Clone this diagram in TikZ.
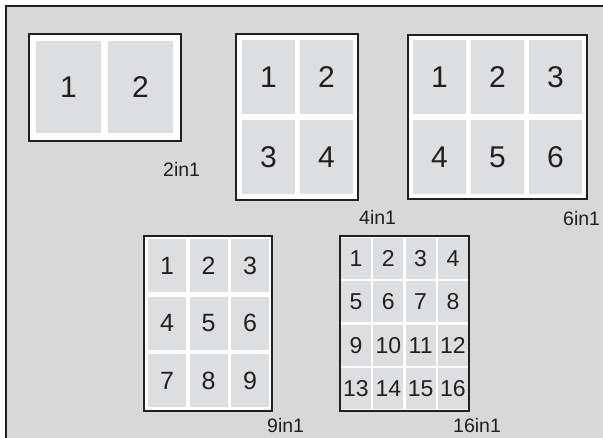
\documentclass[tikz,border=0pt]{standalone}
\usepackage{fontspec}
\setmainfont{Liberation Sans}
\usepackage{xcolor}
\usetikzlibrary{positioning}
\definecolor{panelgray}{HTML}{D8D8D8}
\definecolor{cellgray}{HTML}{DDDEE0}
\definecolor{inkblack}{HTML}{231F20}

\begin{document}
\begin{tikzpicture}[
    x=1pt, y=-1pt,
    sheet/.style={draw=inkblack, line width=1.6pt, fill=white, inner sep=0pt},
    cell/.style={fill=cellgray, inner sep=0pt, text=inkblack},
    bigcell/.style={cell, minimum width=53pt, minimum height=74pt, font=\fontsize{30}{31}\selectfont},
    tag/.style={inner sep=0pt, anchor=west, text=inkblack, font=\fontsize{19.5}{20}\selectfont}
]
\useasboundingbox (0,0) rectangle (603,438);
\fill[panelgray] (6,6) rectangle (603,438);
\draw[inkblack, line width=1.6pt] (6,438) -- (6,6) -- (603,6);

% 2 pages per sheet
\node[sheet, minimum width=152pt, minimum height=107pt] (s2) at (105,87.5) {};
\foreach \c in {0,1} {
  \pgfmathtruncatemacro\n{\c+1}
  \node[cell, minimum width=65pt, minimum height=92pt, font=\fontsize{30}{31}\selectfont] (c2-\n) at (68.5+72*\c, 87) {\n};
}
\node[tag] (l2) at (163,169.5) {2in1};

% 4 pages per sheet
\node[sheet, minimum width=122pt, minimum height=166pt] (s4) at (297,117) {};
\foreach \r in {0,1}
  \foreach \c in {0,1} {
    \pgfmathtruncatemacro\n{2*\r+\c+1}
    \node[bigcell] (c4-\n) at (268.5+58*\c, 77+80*\r) {\n};
  }
\node[tag] (l4) at (359,217) {4in1};

% 6 pages per sheet
\node[sheet, minimum width=179pt, minimum height=164pt] (s6) at (497.5,117) {};
\foreach \r in {0,1}
  \foreach \c in {0,1,2} {
    \pgfmathtruncatemacro\n{3*\r+\c+1}
    \node[bigcell] (c6-\n) at (439.5+58*\c, 77+80*\r) {\n};
  }
\node[tag] (l6) at (563,218.5) {6in1};

% 9 pages per sheet
\node[sheet, minimum width=128pt, minimum height=175pt] (s9) at (208,323.5) {};
\foreach \r in {0,1,2}
  \foreach \c in {0,1,2} {
    \pgfmathtruncatemacro\n{3*\r+\c+1}
    \node[cell, minimum width=38pt, minimum height=53pt, font=\fontsize{25}{26}\selectfont] (c9-\n) at (167+41.5*\c, 265.5+57.7*\r) {\n};
  }
\node[tag] (l9) at (267,426) {9in1};

% 16 pages per sheet
\node[sheet, minimum width=129pt, minimum height=175pt] (s16) at (404.5,323.5) {};
\foreach \r in {0,1,2,3}
  \foreach \c in {0,1,2,3} {
    \pgfmathtruncatemacro\n{4*\r+\c+1}
    \node[cell, minimum width=30pt, minimum height=41pt, font=\fontsize{23}{24}\selectfont] (c16-\n) at (356+32.3*\c, 258.5+43.5*\r) {\n};
  }
\node[tag] (l16) at (453,426) {16in1};
\end{tikzpicture}
\end{document}
